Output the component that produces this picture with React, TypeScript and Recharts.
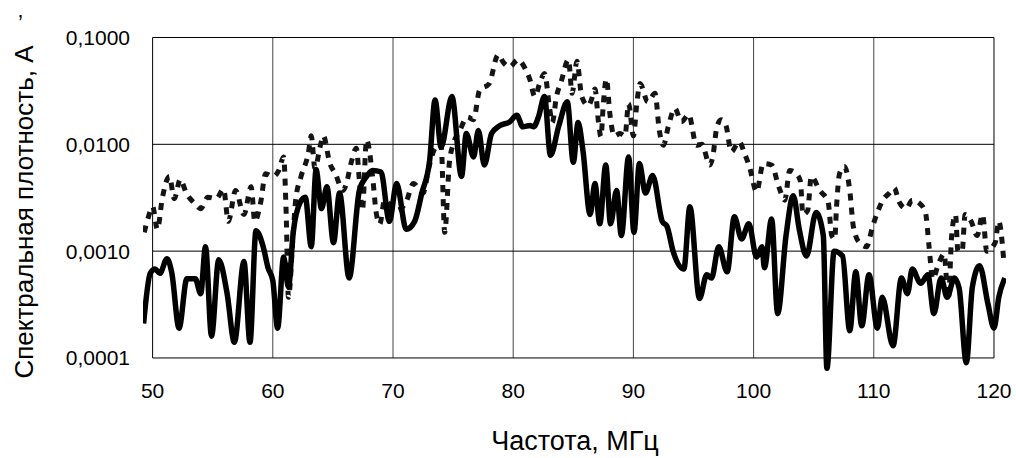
import React from 'react'
import { LineChart, Line, XAxis, YAxis, ReferenceLine } from 'recharts'

// measured spectrum (solid curve)
const solidFreq = [
  49.25, 49.8, 50.2, 50.6, 51.2, 51.6, 52.2, 52.85, 53.55, 54.0, 54.4, 54.9, 55.5, 56.2, 56.8, 57.6, 58.1, 58.6, 59.2, 59.6,
  60.0, 60.4, 60.9, 61.3, 61.7, 62.3, 62.7, 63.2, 63.6, 64.05, 64.5, 65.05, 65.55, 66.35, 67.2, 67.8, 68.3, 69.0, 69.7,
  70.3, 71.1, 71.8, 72.4, 73.05, 73.5, 74.0, 74.9, 75.7, 76.1, 76.7, 77.1, 77.6, 78.2, 78.9, 79.7,
  80.3, 80.8, 81.4, 81.7, 82.1, 82.6, 83.1, 83.8, 84.5, 85.0, 85.4, 85.8, 86.4, 86.8, 87.2, 87.7, 88.1, 88.6, 89.0, 89.6,
  90.05, 90.5, 91.0, 91.6, 92.4, 92.8, 93.3, 94.2, 94.7, 95.5, 96.1, 96.5, 97.1, 97.8, 98.4, 99.0, 99.6,
  100.25, 100.7, 100.9, 101.5, 102.0, 102.7, 103.3, 103.8, 104.4, 105.2, 105.8, 106.1, 106.7, 107.4, 108.0, 108.5, 109.0, 109.6,
  110.3, 110.7, 111.6, 112.3, 112.8, 113.2, 113.9, 114.5, 115.0, 115.6, 116.1, 116.7, 117.1, 117.7, 118.2, 118.8, 119.5,
  120.0, 120.4, 120.9,
]
const solidAmp = [
  0.00021, 0.00062, 0.00068, 0.00062, 0.00085, 0.00062, 0.00019, 0.00055, 0.00055, 0.0004, 0.0011, 0.00016, 0.00083, 0.0004, 0.00014, 0.0008, 0.00014, 0.00155, 0.0011, 0.0007,
  0.00053, 0.00019, 0.00088, 0.00046, 0.0015, 0.0029, 0.0032, 0.0011, 0.0058, 0.0025, 0.004, 0.0012, 0.0035, 0.00056, 0.0037, 0.005, 0.0057, 0.0055, 0.0019,
  0.0043, 0.0016, 0.0019, 0.0035, 0.0071, 0.026, 0.0094, 0.028, 0.005, 0.0126, 0.0076, 0.0135, 0.0064, 0.0126, 0.015, 0.0162,
  0.0187, 0.0146, 0.015, 0.0146, 0.018, 0.028, 0.0079, 0.015, 0.025, 0.0068, 0.016, 0.0088, 0.0022, 0.0043, 0.0018, 0.0064, 0.0018, 0.0037, 0.0014, 0.0076,
  0.0015, 0.0066, 0.0035, 0.0051, 0.0019, 0.0017, 0.001, 0.00068, 0.0026, 0.00036, 0.0006, 0.00056, 0.0011, 0.00064, 0.0021, 0.0013, 0.0018,
  0.00088, 0.0011, 0.0007, 0.002, 0.00026, 0.0014, 0.0033, 0.0016, 0.0009, 0.0023, 0.0014, 0.00008, 0.001, 0.0009, 0.00018, 0.00064, 0.0002, 0.0006,
  0.00019, 0.00037, 0.00013, 0.00056, 0.0004, 0.00068, 0.0005, 0.0006, 0.00026, 0.00056, 0.00037, 0.00056, 0.00045, 0.00009, 0.00046, 0.00073, 0.00032,
  0.00019, 0.00037, 0.00056,
]

// second spectrum (dashed curve)
const dashFreq = [
  49.3, 49.6, 50.0, 50.4, 50.8, 51.4, 51.8, 52.3, 52.8, 53.5, 54.0, 54.6, 55.3, 55.9, 56.3, 56.9, 57.6, 58.2, 58.5, 59.0, 59.4,
  60.0, 60.5, 60.9, 61.1, 61.3, 61.7, 61.9, 62.35, 62.95, 63.2, 63.5, 64.0, 64.2, 64.75, 65.2, 65.85, 66.1, 66.5, 66.95, 67.2, 67.45, 67.8,
  68.3, 68.6, 68.9, 69.3, 70.3, 71.1, 71.7, 72.5, 73.0, 73.5, 74.0, 74.3, 74.7, 75.0, 75.5, 76.2, 76.7, 77.2, 78.0, 78.75, 79.2, 79.7,
  80.4, 81.0, 81.4, 81.8, 82.2, 82.6, 83.05, 83.25, 83.6, 84.0, 84.6, 84.9, 85.3, 85.7, 86.25, 86.5, 86.8, 87.1, 87.3, 87.5, 87.75,
  88.05, 88.4, 88.9, 89.3, 89.6, 90.0, 90.3, 90.55, 91.2, 91.8, 92.15, 92.5, 92.9, 93.45, 94.0, 94.6, 95.25, 95.7, 96.35, 96.6,
  96.95, 97.3, 97.7, 98.15, 98.8, 99.25, 99.65, 100.25, 100.8, 101.5, 102.1, 102.6, 103.0, 103.55, 103.9, 104.1, 104.5, 104.8,
  105.5, 106.2, 106.5, 106.75, 106.9, 107.15, 107.55, 108.0, 108.3, 108.8, 109.4, 109.9, 110.3, 110.75, 111.3, 111.7, 112.1,
  112.7, 113.2, 113.8, 114.3, 114.6, 114.9, 115.4, 115.85, 116.2, 116.5, 116.8, 117.0, 117.35, 117.6, 118.1, 118.6, 119.05,
  119.4, 120.1, 120.4, 120.8,
]
const dashAmp = [
  0.0015, 0.002, 0.0026, 0.0016, 0.0031, 0.005, 0.0031, 0.0047, 0.0035, 0.0028, 0.0025, 0.0032, 0.0031, 0.0038, 0.0019, 0.0037, 0.0022, 0.004, 0.0019, 0.0029, 0.0053,
  0.005, 0.0057, 0.0076, 0.0025, 0.00037, 0.0015, 0.003, 0.005, 0.0082, 0.012, 0.006, 0.0102, 0.012, 0.0066, 0.0053, 0.0037, 0.0042, 0.0066, 0.0092, 0.0046, 0.0024, 0.011,
  0.005, 0.0023, 0.0018, 0.003, 0.0024, 0.0029, 0.0043, 0.0035, 0.0062, 0.0092, 0.01, 0.0015, 0.0069, 0.01, 0.013, 0.018, 0.017, 0.032, 0.037, 0.069, 0.058, 0.053,
  0.062, 0.051, 0.04, 0.028, 0.037, 0.046, 0.021, 0.016, 0.028, 0.039, 0.062, 0.03, 0.06, 0.028, 0.023, 0.026, 0.033, 0.016, 0.0118, 0.024, 0.041,
  0.019, 0.012, 0.0126, 0.012, 0.024, 0.012, 0.025, 0.037, 0.025, 0.03, 0.0136, 0.0098, 0.0146, 0.0217, 0.0163, 0.019, 0.0098, 0.01, 0.0064, 0.0076,
  0.0146, 0.017, 0.015, 0.0085, 0.0106, 0.0082, 0.0062, 0.0036, 0.0066, 0.0064, 0.004, 0.003, 0.0057, 0.0053, 0.0045, 0.0022, 0.0024, 0.005,
  0.0037, 0.0029, 0.0014, 0.0013, 0.0026, 0.0053, 0.0062, 0.0037, 0.0017, 0.0012, 0.0011, 0.0017, 0.0023, 0.003, 0.0035, 0.0039, 0.0029,
  0.0025, 0.003, 0.0028, 0.0023, 0.0011, 0.00055, 0.00077, 0.00094, 0.00036, 0.0015, 0.0022, 0.001, 0.001, 0.0022, 0.0019, 0.0014, 0.0022,
  0.001, 0.0012, 0.0019, 0.00085,
]

const xTicks = [50, 60, 70, 80, 90, 100, 110, 120]
const yTicks = [0.0001, 0.001, 0.01, 0.1]

const solidData = solidFreq.map((f, i) => ({ f, a: solidAmp[i] }))
const dashData = dashFreq.map((f, i) => ({ f, a: dashAmp[i] }))

const font = '"Liberation Sans", Arial, sans-serif'
const fmtY = (v: number) => v.toFixed(4).replace('.', ',')

export default function App() {
  return (
    <div style={{ position: 'absolute', left: 0, top: 0, width: 1016, height: 458, background: '#fff' }}>
      <LineChart width={1016} height={458} margin={{ top: 37.5, right: 10, bottom: 23.5, left: 0 }}>
        <XAxis
          type="number"
          dataKey="f"
          domain={[49.2, 121]}
          allowDataOverflow
          ticks={xTicks}
          axisLine={false}
          tickLine={false}
          tickSize={0}
          tickMargin={8.5}
          height={60}
          tick={{ fill: '#000', fontSize: 21, fontFamily: font }}
        />
        <YAxis
          type="number"
          dataKey="a"
          scale="log"
          domain={[0.00007, 0.1]}
          allowDataOverflow
          ticks={yTicks}
          tickFormatter={fmtY}
          axisLine={false}
          tickLine={false}
          tickSize={0}
          tickMargin={13}
          width={143}
          tick={{ fill: '#000', fontSize: 21, fontFamily: font }}
        />
        {xTicks.map((x) => (
          <ReferenceLine
            key={'vx' + x}
            segment={[{ x, y: 0.0001 }, { x, y: 0.1 }]}
            stroke={x === 50 || x === 120 ? '#000' : '#444'}
            strokeWidth={1}
          />
        ))}
        {yTicks.map((y) => (
          <ReferenceLine key={'hy' + y} segment={[{ x: 50, y }, { x: 120, y }]} stroke="#000" strokeWidth={1} />
        ))}
        <Line
          data={dashData}
          dataKey="a"
          type="monotone"
          stroke="#141414"
          strokeWidth={5}
          strokeDasharray="7 7"
          dot={false}
          isAnimationActive={false}
        />
        <Line
          data={solidData}
          dataKey="a"
          type="monotone"
          stroke="#000"
          strokeWidth={5.5}
          dot={false}
          isAnimationActive={false}
        />
      </LineChart>
      <svg width={1016} height={458} style={{ position: 'absolute', left: 0, top: 0, pointerEvents: 'none' }}>
        <text
          x={-212}
          y={33}
          transform="rotate(-90)"
          textAnchor="middle"
          fontFamily={font}
          fontSize={26}
          fill="#000"
        >
          Спектральная плотность, А
        </text>
        <text x={18} y={30} fontFamily={font} fontSize={22} fill="#000">
          ’
        </text>
        <text x={575} y={450} textAnchor="middle" fontFamily={font} fontSize={27} fill="#000">
          Частота, МГц
        </text>
      </svg>
    </div>
  )
}
